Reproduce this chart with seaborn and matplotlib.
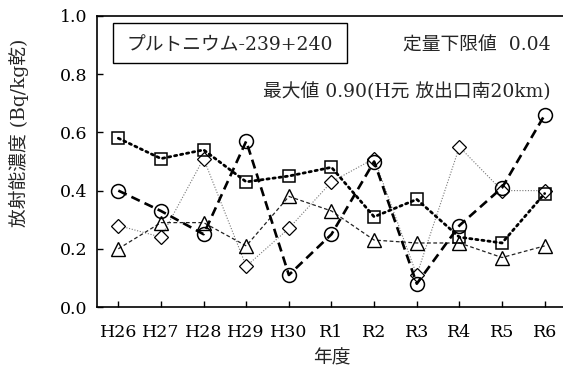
import numpy as np
import matplotlib
matplotlib.use("Agg")
import matplotlib.pyplot as plt
from matplotlib.patches import Rectangle
import seaborn as sns

years = ["H26", "H27", "H28", "H29", "H30", "R1", "R2", "R3", "R4", "R5", "R6"]
circle_vals = [0.40, 0.33, 0.25, 0.57, 0.11, 0.25, 0.50, 0.08, 0.28, 0.41, 0.66]
square_vals = [0.58, 0.51, 0.54, 0.43, 0.45, 0.48, 0.31, 0.37, 0.24, 0.22, 0.39]
triangle_vals = [0.20, 0.29, 0.29, 0.21, 0.38, 0.33, 0.23, 0.22, 0.22, 0.17, 0.21]
diamond_vals = [0.28, 0.24, 0.51, 0.14, 0.27, 0.43, 0.51, 0.11, 0.55, 0.40, 0.40]
yticks = [0.0, 0.2, 0.4, 0.6, 0.8, 1.0]

sns.set_style("ticks")
fonts = ["DejaVu Serif", "Noto Sans CJK JP"]
plt.rcParams["font.family"] = fonts

fig = plt.figure(figsize=(5.63, 3.72), dpi=100)
ax = fig.add_axes([97 / 563, (372 - 307) / 372, (566 - 97) / 563, 291 / 372])

xs = np.arange(len(years))

# thin grey dotted, diamonds
sns.lineplot(x=xs, y=diamond_vals, ax=ax, color="#777777", linestyle=(0, (1, 1.5)), linewidth=0.8,
             marker="D", markersize=7, markerfacecolor="white", markeredgecolor="black",
             markeredgewidth=0.9)
# thin dashed, triangles
sns.lineplot(x=xs, y=triangle_vals, ax=ax, color="#222222", linestyle=(0, (3, 2)), linewidth=0.9,
             marker="^", markersize=10, markerfacecolor="none", markeredgecolor="black",
             markeredgewidth=1.0)
# thick dotted, squares
sns.lineplot(x=xs, y=square_vals, ax=ax, color="black", linestyle=(0, (0.8, 1.4)), linewidth=2.0,
             dash_capstyle="round", marker="s", markersize=9, markerfacecolor="none",
             markeredgecolor="black", markeredgewidth=1.1)
# thick dashed, circles
sns.lineplot(x=xs, y=circle_vals, ax=ax, color="black", linestyle=(0, (3.5, 2)), linewidth=1.9,
             marker="o", markersize=10, markerfacecolor="none", markeredgecolor="black",
             markeredgewidth=1.1)

ax.set_xlim(-0.5, len(years) - 0.5)
ax.set_ylim(0, 1.0)
ax.set_xticks(xs)
ax.set_xticklabels(years)
ax.set_yticks(yticks)
ax.set_yticklabels([f"{v:.1f}" for v in yticks])
ax.tick_params(direction="in", length=4, width=1, labelsize=12.5, colors="black", pad=7)
ax.tick_params(axis="x", pad=12)
for s in ["left", "bottom", "top"]:
    ax.spines[s].set_linewidth(1.2)
    ax.spines[s].set_color("black")
ax.spines["right"].set_visible(False)

ax.set_xlabel("年度", fontsize=13.5, labelpad=6)
ax.set_ylabel("放射能濃度 (Bq/kg乾)", fontsize=13.5)
ax.yaxis.set_label_coords(-0.145, 0.598)

# title box
ax.add_patch(Rectangle((0.034, 0.838), 0.499, 0.138, transform=ax.transAxes, facecolor="white",
                       edgecolor="black", linewidth=1, zorder=5))
ax.text(0.2835, 0.902, "プルトニウム-239+240", transform=ax.transAxes, fontsize=13.5, va="center",
        ha="center", zorder=6)
ax.text(0.968, 0.897, "定量下限値  0.04", transform=ax.transAxes, fontsize=13.5, va="center", ha="right")
ax.text(0.968, 0.739, "最大値 0.90(H元 放出口南20km)", transform=ax.transAxes, fontsize=13.5,
        va="center", ha="right")

fig.savefig("out.png", dpi=100)
